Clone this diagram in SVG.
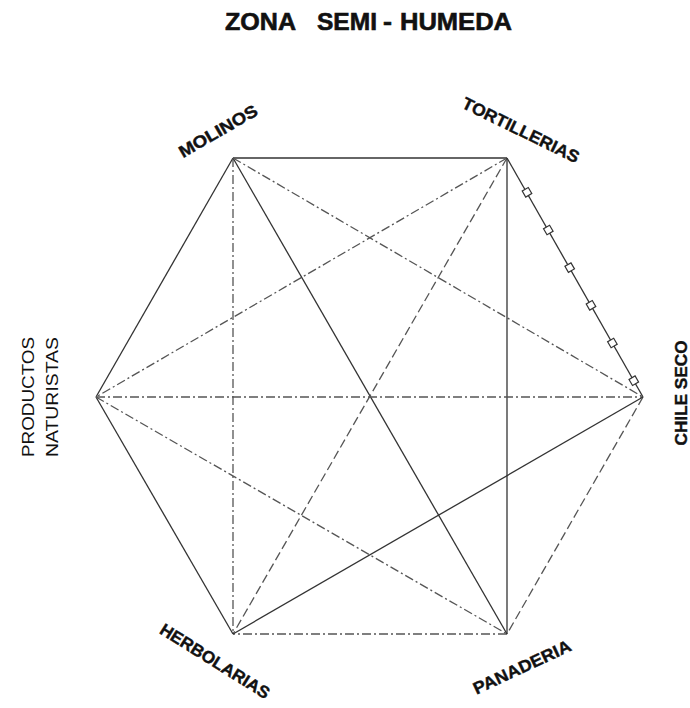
<svg xmlns="http://www.w3.org/2000/svg" xmlns:xlink="http://www.w3.org/1999/xlink" width="690" height="708" viewBox="0 0 690 708">
<style>
.solid{stroke:#333;stroke-width:1.3;fill:none}
.dd{stroke:#555;stroke-width:1.3;fill:none;stroke-dasharray:9 3 2 3}
.dash{stroke:#555;stroke-width:1.3;fill:none;stroke-dasharray:9 4}
.lbl{font-family:"Liberation Sans",Arial,sans-serif;font-weight:bold;font-size:17px;fill:#111;stroke:#111;stroke-width:0.4}
.reg{font-family:"Liberation Sans",Arial,sans-serif;font-size:16px;fill:#111}
.title{font-family:"Liberation Sans",Arial,sans-serif;font-weight:bold;font-size:24px;fill:#111;stroke:#111;stroke-width:0.6}
</style>
<defs>
<rect id="sq" x="-3.5" y="-3.5" width="7" height="7" fill="#fff" stroke="#333" stroke-width="1.2"/>
</defs>
<rect width="690" height="708" fill="#fff"/>
<g id="title">
<text class="title" x="225" y="30" textLength="71" lengthAdjust="spacingAndGlyphs">ZONA</text>
<text class="title" x="317" y="30" textLength="60" lengthAdjust="spacingAndGlyphs">SEMI</text>
<text class="title" x="383" y="30" textLength="9" lengthAdjust="spacingAndGlyphs">-</text>
<text class="title" x="400" y="30" textLength="112" lengthAdjust="spacingAndGlyphs">HUMEDA</text>
</g>
<g id="connectors">
<line class="solid" x1="233" y1="158" x2="507" y2="158"/>
<line class="solid" x1="507" y1="158" x2="643" y2="397"/>
<line class="dash" x1="643" y1="397" x2="507" y2="634"/>
<line class="dd" x1="507" y1="634" x2="233" y2="634"/>
<line class="solid" x1="233" y1="634" x2="96" y2="397"/>
<line class="solid" x1="96" y1="397" x2="233" y2="158"/>
<line class="dd" x1="233" y1="158" x2="233" y2="634"/>
<line class="solid" x1="233" y1="158" x2="507" y2="634"/>
<line class="dd" x1="233" y1="158" x2="643" y2="397"/>
<line class="dd" x1="507" y1="158" x2="96" y2="397"/>
<line class="dash" x1="507" y1="158" x2="233" y2="634"/>
<line class="solid" x1="507" y1="158" x2="507" y2="634"/>
<line class="dd" x1="96" y1="397" x2="643" y2="397"/>
<line class="dd" x1="96" y1="397" x2="507" y2="634"/>
<line class="solid" x1="233" y1="634" x2="643" y2="397"/>
<use xlink:href="#sq" transform="translate(527,192.3) rotate(60)"/>
<use xlink:href="#sq" transform="translate(548.3,230) rotate(60)"/>
<use xlink:href="#sq" transform="translate(569.7,267.6) rotate(60)"/>
<use xlink:href="#sq" transform="translate(591,305.3) rotate(60)"/>
<use xlink:href="#sq" transform="translate(612.4,343) rotate(60)"/>
<use xlink:href="#sq" transform="translate(633.8,380.7) rotate(60)"/>
</g>
<g id="molinos">
<text class="lbl" text-anchor="middle" transform="translate(218,131) rotate(-30)" y="6" textLength="88" lengthAdjust="spacingAndGlyphs">MOLINOS</text>
</g>
<g id="tortillerias">
<text class="lbl" text-anchor="middle" transform="translate(521,130) rotate(26)" y="6" textLength="128" lengthAdjust="spacingAndGlyphs">TORTILLERIAS</text>
</g>
<g id="chile-seco">
<text class="lbl" text-anchor="middle" transform="translate(680,393) rotate(-90)" y="7" textLength="105" lengthAdjust="spacingAndGlyphs">CHILE SECO</text>
</g>
<g id="panaderia">
<text class="lbl" text-anchor="middle" transform="translate(522,667) rotate(-25)" y="6" textLength="106" lengthAdjust="spacingAndGlyphs">PANADERIA</text>
</g>
<g id="herbolarias">
<text class="lbl" text-anchor="middle" transform="translate(215,661) rotate(32)" y="6" textLength="126" lengthAdjust="spacingAndGlyphs">HERBOLARIAS</text>
</g>
<g id="productos-naturistas">
<text class="reg" text-anchor="middle" transform="translate(34,397) rotate(-90)" textLength="120" lengthAdjust="spacingAndGlyphs">PRODUCTOS</text>
<text class="reg" text-anchor="middle" transform="translate(58,397) rotate(-90)" textLength="120" lengthAdjust="spacingAndGlyphs">NATURISTAS</text>
</g>
</svg>
